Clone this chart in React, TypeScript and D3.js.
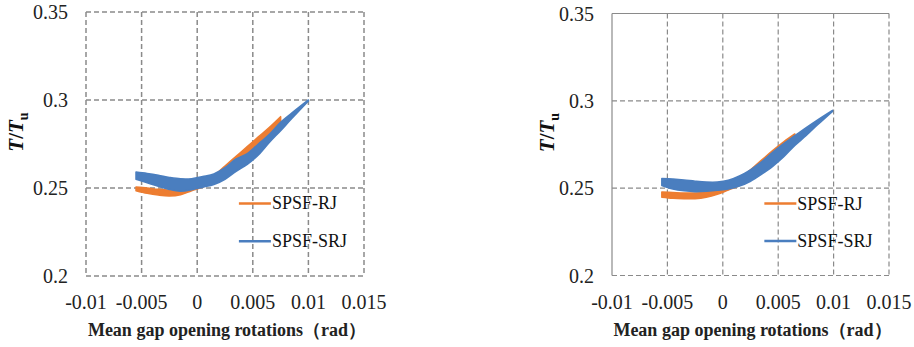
import React from "react";
import * as d3 from "d3";

// ---- data ----
const xTicks = [-0.01, -0.005, 0, 0.005, 0.01, 0.015];
const yTicks = [0.2, 0.25, 0.3, 0.35];
const xTickLabels = ["-0.01", "-0.005", "0", "0.005", "0.01", "0.015"];
const yTickLabels = ["0.2", "0.25", "0.3", "0.35"];
const seriesNames = ["SPSF-RJ", "SPSF-SRJ"];
const xTitle = "Mean gap opening rotations（rad）";

// Left panel: [rotation, upper T/Tu, lower T/Tu]
const leftRJ: [number, number, number][] = [
  [-0.0055, 0.2505, 0.2485],
  [-0.0045, 0.25, 0.247],
  [-0.0035, 0.2492, 0.246],
  [-0.0025, 0.2488, 0.2455],
  [-0.0015, 0.2492, 0.2462],
  [-0.0005, 0.2505, 0.2485],
  [0.0005, 0.253, 0.2505],
  [0.0015, 0.257, 0.2535],
  [0.0025, 0.2625, 0.258],
  [0.0035, 0.268, 0.263],
  [0.0045, 0.2735, 0.2685],
  [0.0055, 0.279, 0.274],
  [0.0065, 0.2845, 0.28],
  [0.0075, 0.2905, 0.287],
];
const leftSRJ: [number, number, number][] = [
  [-0.0055, 0.259, 0.255],
  [-0.0045, 0.2582, 0.253],
  [-0.0035, 0.2572, 0.251],
  [-0.0025, 0.256, 0.2492],
  [-0.0015, 0.2552, 0.2482],
  [-0.0005, 0.2553, 0.249],
  [0.0005, 0.2565, 0.2505],
  [0.0015, 0.258, 0.252],
  [0.0025, 0.2615, 0.255],
  [0.0035, 0.2665, 0.2595],
  [0.0045, 0.2695, 0.2635],
  [0.0055, 0.275, 0.2688],
  [0.0065, 0.2805, 0.276],
  [0.0075, 0.2873, 0.2826],
  [0.0085, 0.2925, 0.2895],
  [0.01, 0.3, 0.2995],
];
// Right panel
const rightRJ: [number, number, number][] = [
  [-0.0055, 0.2478, 0.2448],
  [-0.0045, 0.2475, 0.2442],
  [-0.0035, 0.2472, 0.244],
  [-0.0025, 0.2472, 0.244],
  [-0.0015, 0.2478, 0.2448],
  [-0.0005, 0.249, 0.2465],
  [0.0005, 0.251, 0.249],
  [0.0015, 0.255, 0.2515],
  [0.0025, 0.2605, 0.256],
  [0.0035, 0.266, 0.261],
  [0.0045, 0.2715, 0.2665],
  [0.0055, 0.2765, 0.272],
  [0.0065, 0.281, 0.2785],
];
const rightSRJ: [number, number, number][] = [
  [-0.0055, 0.2555, 0.2515],
  [-0.0045, 0.2552, 0.2495],
  [-0.0035, 0.2547, 0.2485],
  [-0.0025, 0.254, 0.248],
  [-0.0015, 0.2535, 0.2482],
  [-0.0005, 0.2535, 0.2488],
  [0.0005, 0.2545, 0.2495],
  [0.0015, 0.257, 0.2512],
  [0.0025, 0.2605, 0.254],
  [0.0035, 0.265, 0.258],
  [0.0045, 0.2705, 0.2625],
  [0.0055, 0.2755, 0.268],
  [0.0065, 0.28, 0.2745],
  [0.0075, 0.2845, 0.28],
  [0.0085, 0.2888, 0.286],
  [0.0099, 0.2945, 0.294],
];

const ORANGE = "#ED7D31";
const BLUE = "#4A7EBF";

type Panel = {
  left: number;
  right: number;
  top: number;
  bottom: number;
  rj: [number, number, number][];
  srj: [number, number, number][];
  titleX: number;
  solidFrame: boolean;
  gridW: number;
};

const panels: Panel[] = [
  { left: 86, right: 364, top: 12, bottom: 276, rj: leftRJ, srj: leftSRJ, titleX: 16, solidFrame: false, gridW: 1.5 },
  { left: 612, right: 889, top: 13.5, bottom: 275.5, rj: rightRJ, srj: rightSRJ, titleX: 547, solidFrame: true, gridW: 1.2 },
];

function sty(size: number, extra: Record<string, string> = {}) {
  return { fontFamily: `"Liberation Serif"`, fontSize: `${size}px`, ...extra };
}

function ChartPanel({ p }: { p: Panel }) {
  const x = d3.scaleLinear().domain([-0.01, 0.015]).range([p.left, p.right]);
  const y = d3.scaleLinear().domain([0.2, 0.35]).range([p.bottom, p.top]);
  const area = d3
    .area<[number, number, number]>()
    .x((d) => x(d[0]))
    .y0((d) => y(d[2]))
    .y1((d) => y(d[1]))
    .curve(d3.curveCatmullRom);
  const gridColor = "#8a8a8a";
  const dash = "5,3";
  const legendX0 = x(0.00375);
  const legendY = [y(0.2412), y(0.2198)];
  return (
    <g>
      {xTicks.map((t, i) => (
        <line
          key={"vx" + i}
          x1={x(t)}
          x2={x(t)}
          y1={p.top}
          y2={p.bottom}
          stroke={gridColor}
          strokeWidth={p.gridW}
          strokeDasharray={p.solidFrame && i === 0 ? undefined : dash}
        />
      ))}
      {yTicks.map((t, i) => (
        <line
          key={"hy" + i}
          x1={p.left}
          x2={p.right}
          y1={y(t)}
          y2={y(t)}
          stroke={gridColor}
          strokeWidth={p.gridW}
          strokeDasharray={p.solidFrame && i === yTicks.length - 1 ? undefined : dash}
        />
      ))}
      <path d={area(p.rj) || ""} fill={ORANGE} stroke={ORANGE} strokeWidth={1.6} strokeLinejoin="round" />
      <path d={area(p.srj) || ""} fill={BLUE} stroke={BLUE} strokeWidth={1.6} strokeLinejoin="round" />
      {yTicks.map((t, i) => (
        <text key={"yl" + i} x={p.left - 18} y={y(t) + 7} textAnchor="end" style={sty(20)} fill="#222">
          {yTickLabels[i]}
        </text>
      ))}
      {xTicks.map((t, i) => (
        <text key={"xl" + i} x={x(t)} y={p.bottom + 33} textAnchor="middle" style={sty(20)} fill="#222">
          {xTickLabels[i]}
        </text>
      ))}
      <text
        x={(p.left + p.right) / 2 + 2}
        y={p.bottom + 60}
        textAnchor="middle"
        style={sty(18, { fontWeight: "bold" })}
        fill="#222"
      >
        {xTitle}
      </text>
      <text
        transform={`translate(${p.titleX + 7},${(p.top + p.bottom) / 2 - 12}) rotate(-90)`}
        textAnchor="middle"
        style={sty(21, { fontWeight: "bold" })}
        fill="#111"
      >
        <tspan style={{ fontStyle: "italic" }}>T</tspan>
        <tspan>/</tspan>
        <tspan style={{ fontStyle: "italic" }}>T</tspan>
        <tspan style={{ fontSize: "14px" }} dy={5}>u</tspan>
      </text>
      {[ORANGE, BLUE].map((c, i) => (
        <g key={"lg" + i}>
          <line x1={legendX0} x2={legendX0 + 32} y1={legendY[i]} y2={legendY[i]} stroke={c} strokeWidth={2.5} />
          <text x={legendX0 + 33} y={legendY[i] + 6} style={sty(18)} fill="#111">
            {seriesNames[i]}
          </text>
        </g>
      ))}
    </g>
  );
}

export default function App() {
  return (
    <svg width={914} height={347} style={{ position: "absolute", left: 0, top: 0, background: "#fff" }}>
      <rect width={914} height={347} fill="#fff" />
      {panels.map((p, i) => (
        <ChartPanel key={i} p={p} />
      ))}
    </svg>
  );
}
